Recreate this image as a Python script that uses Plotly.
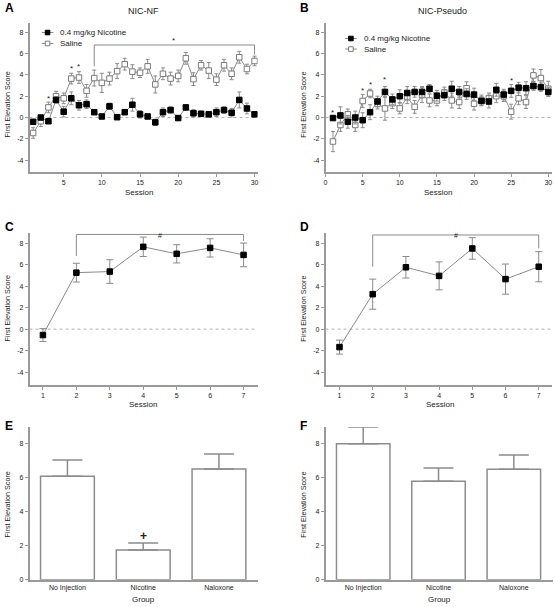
import plotly.graph_objects as go

W, H = 555, 607

# ---------------- data ----------------
sessions30 = list(range(1, 31))

A_nic = [-0.4, 0.0, -0.35, 1.65, 0.55, 1.8, 1.15, 1.25, 0.5, 0.1, 1.05, 0.03, 0.5, 1.2, 0.3,
         0.1, -0.45, 0.5, 0.7, -0.05, 0.95, 0.4, 0.35, 0.3, 0.5, 0.7, 0.45, 1.65, 0.85, 0.3]
A_nic_err = [0.2, 0.1, 0.2, 0.3, 0.5, 0.6, 0.45, 0.4, 0.15, 0.15, 0.3, 0.1, 0.15, 0.6, 0.35,
             0.15, 0.3, 0.4, 0.3, 0.2, 0.25, 0.35, 0.25, 0.25, 0.4, 0.3, 0.4, 0.75, 0.5, 0.25]
A_sal = [-1.45, -0.35, 0.95, 2.0, 1.8, 3.65, 3.75, 2.5, 3.7, 3.25, 3.65, 4.35, 5.0, 4.3, 4.2,
         4.8, 3.1, 4.1, 3.65, 3.9, 5.55, 3.6, 4.9, 4.4, 3.55, 4.9, 4.1, 5.65, 4.55, 5.3]
A_sal_err = [0.5, 0.5, 0.5, 0.45, 0.5, 0.5, 0.55, 0.6, 0.75, 0.9, 0.6, 0.7, 0.55, 0.65, 0.45,
             0.65, 0.8, 0.55, 0.6, 0.55, 0.55, 0.6, 0.45, 0.75, 0.55, 0.55, 0.55, 0.55, 0.45, 0.45]

B_nic = [-0.05, 0.2, -0.4, 0.0, -0.25, 0.5, 1.5, 2.4, 1.7, 2.0, 2.3, 2.4, 2.4, 2.7, 2.05,
         2.1, 2.7, 2.4, 2.2, 2.15, 1.55, 1.5, 2.6, 2.15, 2.5, 2.8, 2.75, 2.95, 2.85, 2.4]
B_nic_err = [0.15, 0.8, 0.6, 0.6, 0.7, 0.7, 0.5, 0.5, 0.5, 0.6, 0.6, 0.5, 0.5, 0.4, 0.5,
             0.5, 0.7, 0.5, 0.5, 0.6, 0.4, 0.6, 0.6, 0.5, 0.6, 0.5, 0.6, 0.4, 0.4, 0.4]
B_sal = [-2.25, -0.7, 0.3, -0.7, 1.55, 2.25, 1.3, 0.85, 1.35, 0.85, 1.9, 1.0, 2.1, 1.6, 1.6,
         2.35, 1.6, 1.45, 2.75, 1.3, 1.6, 1.8, 2.0, 2.0, 0.55, 1.8, 1.45, 3.95, 3.7, 2.7]
B_sal_err = [0.95, 0.6, 0.5, 0.6, 0.6, 0.4, 0.5, 1.1, 0.5, 0.5, 0.6, 0.6, 0.7, 0.6, 0.5,
             0.5, 0.7, 0.6, 0.6, 0.6, 0.5, 0.5, 0.6, 0.5, 0.7, 0.6, 0.6, 0.6, 0.8, 0.7]

sessions7 = [1, 2, 3, 4, 5, 6, 7]
C_val = [-0.55, 5.25, 5.35, 7.65, 7.0, 7.55, 6.9]
C_err = [0.6, 0.87, 1.1, 0.9, 0.85, 0.85, 1.1]
D_val = [-1.67, 3.25, 5.75, 4.95, 7.5, 4.65, 5.8]
D_err = [0.65, 1.4, 1.0, 1.3, 1.0, 1.4, 1.4]

groups = ["No Injection", "Nicotine", "Naloxone"]
E_val = [6.1, 1.76, 6.52]
E_err = [0.95, 0.4, 0.88]
F_val = [8.0, 5.8, 6.5]
F_err = [1.0, 0.78, 0.85]

series_names = ["0.4 mg/kg Nicotine", "Saline"]

# significance marks (x, y)
A_stars = [(3, 1.75), (6, 4.6), (7, 4.8), (19.4, 7.25)]
A_bracket = (9, 30, 6.8, 4.8, 5.9)      # x0, x1, level, left end, right end
B_stars = [(1, 0.45), (5, 2.55), (6, 3.05), (8, 3.6), (25, 3.5)]
C_bracket = (2, 7, 8.8, 6.8, 8.2)
C_mark = (4.5, 9.25)
D_bracket = (2, 7, 8.75, 5.8, 7.5)
D_mark = (4.5, 9.25)
E_mark = (1, 2.55)

yticks_line = [-4, -2, 0, 2, 4, 6, 8]
yticks_line_text = ["-4", "-2", "0", "2", "4", "6", "8"]
yticks_bar = [0, 2, 4, 6, 8]

# ---------------- style ----------------
FONT = "Liberation Sans, Arial, sans-serif"
AX = "#9a9a9a"
LINE = "#8a8a8a"
TXT = "#222222"
OPEN_EDGE = "#7a7a7a"


def px(x):
    return x / W


def py(y):
    return 1 - y / H


fig = go.Figure()


def line_trace(x, y, err, filled, xa, ya, name=None, cap=2):
    return go.Scatter(
        x=x, y=y, mode="lines+markers", xaxis=xa, yaxis=ya,
        name=name, showlegend=False,
        line=dict(color=LINE, width=1),
        marker=dict(symbol="square", size=5.5,
                    color="black" if filled else "white",
                    line=dict(color="black" if filled else OPEN_EDGE, width=1)),
        error_y=dict(type="data", array=err, color=LINE, thickness=1, width=cap),
    )


# Panel A
fig.add_trace(line_trace(sessions30, A_sal, A_sal_err, False, "x", "y", series_names[1]))
fig.add_trace(line_trace(sessions30, A_nic, A_nic_err, True, "x", "y", series_names[0]))
# Panel B
fig.add_trace(line_trace(sessions30, B_sal, B_sal_err, False, "x2", "y2", series_names[1]))
fig.add_trace(line_trace(sessions30, B_nic, B_nic_err, True, "x2", "y2", series_names[0]))
# Panels C, D
fig.add_trace(line_trace(sessions7, C_val, C_err, True, "x3", "y3", cap=3.5))
fig.add_trace(line_trace(sessions7, D_val, D_err, True, "x4", "y4", cap=3.5))


def bar_trace(vals, errs, xa, ya):
    return go.Bar(
        x=groups, y=vals, xaxis=xa, yaxis=ya, showlegend=False, width=0.71,
        marker=dict(color="white", line=dict(color="#8c8c8c", width=1.5)),
        error_y=dict(type="data", array=errs, arrayminus=[0] * len(errs), symmetric=False,
                     color="#8c8c8c", thickness=1.5, width=15),
    )


fig.add_trace(bar_trace(E_val, E_err, "x5", "y5"))
fig.add_trace(bar_trace(F_val, F_err, "x6", "y6"))

# ---------------- axes ----------------
left_x = [27.7, 257]
right_x = [325.3, 553]
rows_y = [(22.7, 173), (234, 387), (429, 582.7)]
range_top = [-5.12, 8.9]
range_mid = [-5.2, 8.95]

common = dict(showline=True, linecolor=AX, linewidth=1.5, ticks="outside", ticklen=3,
              tickcolor=AX, tickwidth=1, showgrid=False, zeroline=False,
              tickfont=dict(size=7, color=TXT, family=FONT))


def dom_x(c):
    return [px(c[0]), px(c[1])]


def dom_y(r):
    return [py(r[1]), py(r[0])]


lay = {}
lay["xaxis"] = dict(domain=dom_x(left_x), range=[0.53, 30.4], tickvals=[5, 10, 15, 20, 25, 30],
                    anchor="y", **common)
lay["yaxis"] = dict(domain=dom_y(rows_y[0]), range=range_top, tickvals=yticks_line,
                    ticktext=yticks_line_text, anchor="x", **common)
lay["xaxis2"] = dict(domain=dom_x(right_x), range=[0, 30.5], tickvals=[0, 5, 10, 15, 20, 25, 30],
                     anchor="y2", **common)
lay["yaxis2"] = dict(domain=dom_y(rows_y[0]), range=range_top, tickvals=yticks_line,
                     ticktext=yticks_line_text, anchor="x2", **common)
lay["xaxis3"] = dict(domain=dom_x(left_x), range=[0.6, 7.42], tickvals=sessions7, anchor="y3", **common)
lay["yaxis3"] = dict(domain=dom_y(rows_y[1]), range=range_mid, tickvals=yticks_line,
                     ticktext=yticks_line_text, anchor="x3", **common)
lay["xaxis4"] = dict(domain=dom_x(right_x), range=[0.58, 7.4], tickvals=sessions7, anchor="y4", **common)
lay["yaxis4"] = dict(domain=dom_y(rows_y[1]), range=range_mid, tickvals=yticks_line,
                     ticktext=yticks_line_text, anchor="x4", **common)
lay["xaxis5"] = dict(domain=dom_x(left_x), range=[-0.5, 2.51], anchor="y5",
                     **{**common, "ticks": ""})
lay["yaxis5"] = dict(domain=dom_y(rows_y[2]), range=[0, 9.0], tickvals=yticks_bar, anchor="x5", **common)
lay["xaxis6"] = dict(domain=[px(325.3), px(554)], range=[-0.5, 2.52], anchor="y6",
                     **{**common, "ticks": ""})
lay["yaxis6"] = dict(domain=dom_y(rows_y[2]), range=[0, 9.0], tickvals=yticks_bar, anchor="x6", **common)

fig.update_layout(**lay)

# ---------------- shapes ----------------
shapes = []
for xa, ya in [("x", "y"), ("x2", "y2"), ("x3", "y3"), ("x4", "y4")]:
    shapes.append(dict(type="line", xref=f"{xa} domain", yref=ya, x0=0, x1=1, y0=0, y1=0,
                       line=dict(color="#b0b0b0", width=1, dash="dot"), layer="below"))


def bracket(b, xa, ya):
    x0, x1, lvl, e0, e1 = b
    return dict(type="path", xref=xa, yref=ya,
                path=f"M {x0},{e0} L {x0},{lvl} L {x1},{lvl} L {x1},{e1}",
                line=dict(color=LINE, width=1))


shapes.append(bracket(A_bracket, "x", "y"))
shapes.append(bracket(C_bracket, "x3", "y3"))
shapes.append(bracket(D_bracket, "x4", "y4"))

# ---------------- annotations ----------------
ann = []


def paper_text(text, x, y, size, bold=False, angle=0, xanchor="center", yanchor="middle"):
    ann.append(dict(text=f"<b>{text}</b>" if bold else text, x=px(x), y=py(y), xref="paper",
                    yref="paper", showarrow=False, textangle=angle, xanchor=xanchor,
                    yanchor=yanchor, font=dict(size=size, color=TXT if not bold else "black",
                                               family=FONT)))


# manual legends (key: line segment + square, then label)
def legend_item(label, x0, yc, filled):
    shapes.append(dict(type="line", xref="paper", yref="paper", x0=px(x0), x1=px(x0 + 11.7),
                       y0=py(yc), y1=py(yc), line=dict(color=LINE, width=1)))
    mx = x0 + 5.8
    shapes.append(dict(type="rect", xref="paper", yref="paper", x0=px(mx - 2.3), x1=px(mx + 2.3),
                       y0=py(yc + 2.3), y1=py(yc - 2.3),
                       fillcolor="black" if filled else "white",
                       line=dict(color="black" if filled else OPEN_EDGE, width=1)))
    paper_text(label, x0 + 16.7, yc, 8, xanchor="left")


legend_item(series_names[0], 40, 32.7, True)
legend_item(series_names[1], 40, 43.7, False)
legend_item(series_names[0], 345, 38.7, True)
legend_item(series_names[1], 345, 49.3, False)

paper_text("A", 1, 8, 12, bold=True, xanchor="left")
paper_text("B", 298, 8, 12, bold=True, xanchor="left")
paper_text("C", 1, 228, 12, bold=True, xanchor="left")
paper_text("D", 298, 228, 12, bold=True, xanchor="left")
paper_text("E", 1, 428, 12, bold=True, xanchor="left")
paper_text("F", 298, 428, 12, bold=True, xanchor="left")
paper_text("NIC-NF", 142, 11, 9)
paper_text("NIC-Pseudo", 443, 11, 9)

for xc, yc in [(6, 105), (303, 105), (6, 310), (303, 310), (6, 507), (303, 507)]:
    paper_text("First Elevation Score", xc, yc, 7.2, angle=-90)

paper_text("Session", 138, 193, 8)
paper_text("Session", 438, 193, 8)
paper_text("Session", 142, 407, 8)
paper_text("Session", 440, 407, 8)
paper_text("Group", 142, 602, 8)
paper_text("Group", 440, 602, 8)


def data_text(text, x, y, xa, ya, size=8, bold=False):
    ann.append(dict(text=f"<b>{text}</b>" if bold else text, x=x, y=y, xref=xa, yref=ya,
                    showarrow=False, font=dict(size=size, color=TXT, family=FONT)))


def dom_text(text, x, y, xa, ya, rng, size=7):
    frac = (y - rng[0]) / (rng[1] - rng[0])
    ann.append(dict(text=text, x=x, y=frac, xref=xa, yref=f"{ya} domain",
                    showarrow=False, font=dict(size=size, color=TXT, family=FONT)))


for sx, sy in A_stars:
    data_text("*", sx, sy, "x", "y")
for sx, sy in B_stars:
    data_text("*", sx, sy, "x2", "y2")
dom_text("#", C_mark[0], C_mark[1], "x3", "y3", range_mid)
dom_text("#", D_mark[0], D_mark[1], "x4", "y4", range_mid)
data_text("+", E_mark[0], E_mark[1], "x5", "y5", size=12, bold=True)

fig.update_layout(
    width=W, height=H, margin=dict(l=0, r=0, t=0, b=0),
    paper_bgcolor="white", plot_bgcolor="white",
    shapes=shapes, annotations=ann, bargap=0.29, showlegend=False,
    font=dict(family=FONT),
)

fig.write_html(
    "out.html",
    config={"displayModeBar": False},
    post_script="document.body.style.margin='0';document.body.style.overflow='hidden';",
)
